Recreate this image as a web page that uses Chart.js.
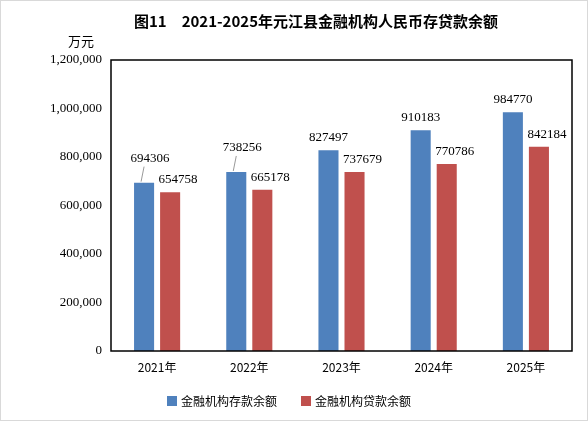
<!DOCTYPE html>
<html><head><meta charset="utf-8">
<script src="https://cdn.jsdelivr.net/npm/chart.js@4"></script>
<style>html,body{margin:0;padding:0;background:#fff}#w{width:588px;height:421px;position:relative;box-sizing:border-box;border:1px solid #d9d9d9}</style>
</head><body><div id="w"><canvas id="c"></canvas></div>
<script>
const categories = ['2021年','2022年','2023年','2024年','2025年'];
const deposits = [694306,738256,827497,910183,984770];
const loans = [654758,665178,737679,770786,842184];
const seriesNames = ['金融机构存款余额','金融机构贷款余额'];
const titleText = '图11　2021-2025年元江县金融机构人民币存贷款余额';
const unitText = '万元';

const deco = {
  id:'deco',
  afterDraw(ch){
    const c=ch.ctx, a=ch.chartArea;
    c.save();
    c.strokeStyle='#000'; c.lineWidth=1.5;
    c.strokeRect(a.left,a.top,a.right-a.left,a.bottom-a.top);
    c.fillStyle='#000';
    c.font='bold 15px "Noto Sans CJK SC"'; c.textAlign='center'; c.textBaseline='middle';
    c.fillText(titleText,315,20);
    c.font='13px "Noto Sans CJK SC"'; c.fillText(unitText,80,40);
    // data labels
    c.font='13px "Liberation Serif"'; c.textBaseline='bottom';
    [0,1].forEach(di=>{
      const meta=ch.getDatasetMeta(di);
      meta.data.forEach((b,i)=>{
        const v=ch.data.datasets[di].data[i];
        let dx = di===0 ? 0 : 8;
        let dy = -6;
        if(di===0 && i<2){ dx=6; dy=-18; }
        c.fillText(String(v), b.x+dx, b.y+dy);
        if(di===0 && i<2){
          c.strokeStyle='#7f7f7f'; c.lineWidth=0.8;
          c.beginPath(); c.moveTo(b.x+dx-6,b.y+dy+2); c.lineTo(b.x-3,b.y-1); c.stroke();
        }
      });
    });
    // legend
    const items=[[166,'#4F81BD',seriesNames[0]],[300,'#C0504D',seriesNames[1]]];
    c.font='12px "Noto Sans CJK SC"'; c.textAlign='left'; c.textBaseline='middle';
    items.forEach(([x,col,t])=>{c.fillStyle=col;c.fillRect(x,395,10,10);c.fillStyle='#000';c.fillText(t,x+14,400);});
    c.restore();
  }
};

new Chart(document.getElementById('c'),{
  type:'bar',
  data:{labels:categories,datasets:[
    {label:seriesNames[0],data:deposits,backgroundColor:'#4F81BD',barPercentage:0.77,categoryPercentage:0.565},
    {label:seriesNames[1],data:loans,backgroundColor:'#C0504D',barPercentage:0.77,categoryPercentage:0.565}
  ]},
  options:{
    responsive:true,maintainAspectRatio:false,animation:false,
    layout:{padding:{top:59,left:10,right:15,bottom:39}},
    plugins:{legend:{display:false},tooltip:{enabled:false}},
    scales:{
      x:{grid:{display:false,drawTicks:false},border:{display:false},
         ticks:{color:'#000',padding:9,font:{family:'"Noto Sans CJK SC"',size:12}},
         afterFit:s=>{s.height=30;}},
      y:{min:0,max:1200000,grid:{display:false,drawTicks:true,tickLength:5,tickColor:'#000'},
         border:{display:false},
         ticks:{stepSize:200000,color:'#000',padding:4,font:{family:'"Liberation Serif"',size:13}},
         afterFit:s=>{s.width=100;}}
    }
  },
  plugins:[deco]
});
</script></body></html>
